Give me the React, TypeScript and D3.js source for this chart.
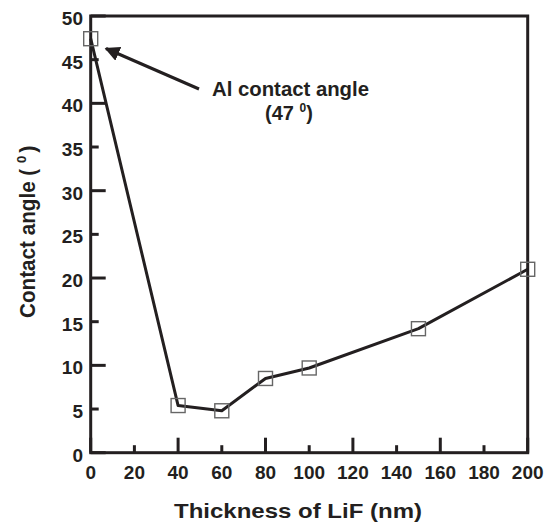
import React from "react";
import * as d3 from "d3";

const thickness = [0, 40, 60, 80, 100, 150, 200];
const angle = [47.4, 5.4, 4.8, 8.5, 9.7, 14.2, 21.0];
const xTicks = [0, 20, 40, 60, 80, 100, 120, 140, 160, 180, 200];
const yTicks = [0, 5, 10, 15, 20, 25, 30, 35, 40, 45, 50];
const xTitle = "Thickness of LiF (nm)";
const yTitle = "Contact angle ( ";
const annot1 = "Al contact angle";
const annotValue = "(47 ";

export default function App() {
  const W = 551, H = 526;
  const L = 90.7, R = 527.7, T = 16, B = 452.7;
  const x = d3.scaleLinear().domain([0, 200]).range([L, R]);
  const y = d3.scaleLinear().domain([0, 50]).range([B, T]);
  const line = d3.line<number>()
    .x((_, i) => x(thickness[i]))
    .y((d) => y(d))
    .curve(d3.curveLinear);
  const ink = "#231f20";
  const font = "'Liberation Sans', Arial, sans-serif";
  const s = 14;
  return (
    <svg width={W} height={H} style={{ position: "absolute", left: 0, top: 0 }}>
      <defs>
        <marker id="ah" viewBox="0 0 10 10" refX="9" refY="5" markerWidth="5" markerHeight="5" orient="auto" markerUnits="strokeWidth">
          <path d="M0,0 L10,5 L0,10 z" fill={ink} />
        </marker>
      </defs>
      <rect width={W} height={H} fill="#fff" />
      {xTicks.map((t, i) => (
        <line key={"xt" + t} x1={x(t)} x2={x(t)} y1={B} y2={B - (i % 2 === 0 ? 15 : 7.5)} stroke={ink} strokeWidth={3} />
      ))}
      {yTicks.map((t, i) => (
        <line key={"yt" + t} x1={L} x2={L + (i % 2 === 0 ? 15 : 8)} y1={y(t)} y2={y(t)} stroke={ink} strokeWidth={3} />
      ))}
      <rect x={L} y={T} width={R - L} height={B - T} fill="none" stroke={ink} strokeWidth={3} />
      {xTicks.map((t) => (
        <text key={"xl" + t} x={x(t)} y={478.5} textAnchor="middle" fontFamily={font} fontWeight="bold" fontSize={19} fill={ink}>{t}</text>
      ))}
      {yTicks.map((t) => (
        <text key={"yl" + t} x={83} y={y(t) + 9} textAnchor="end" fontFamily={font} fontWeight="bold" fontSize={19} fill={ink}>{t}</text>
      ))}
      <text x={174} y={518.3} textLength={248} lengthAdjust="spacingAndGlyphs" fontFamily={font} fontWeight="bold" fontSize={21} fill={ink}>{xTitle}</text>
      <text transform="translate(35,318) rotate(-90)" fontFamily={font} fontWeight="bold" fontSize={22} fill={ink}>
        <tspan textLength={155} lengthAdjust="spacingAndGlyphs">{yTitle}</tspan><tspan fontSize={13} dy={-9}>0</tspan><tspan dx={3} dy={9}>)</tspan>
      </text>
      <path d={line(angle) || ""} fill="none" stroke={ink} strokeWidth={3} strokeLinejoin="round" />
      {angle.map((v, i) => (
        <rect key={"m" + i} x={x(thickness[i]) - s / 2} y={y(v) - s / 2} width={s} height={s} fill="none" stroke="#666" strokeWidth={1.4} />
      ))}
      <line x1={199} y1={89} x2={106} y2={48.5} stroke={ink} strokeWidth={3} markerEnd="url(#ah)" />
      <text x={212} y={96} textLength={157} lengthAdjust="spacingAndGlyphs" fontFamily={font} fontWeight="bold" fontSize={20} fill={ink}>{annot1}</text>
      <text x={265} y={120} fontFamily={font} fontWeight="bold" fontSize={20} fill={ink}>
        {annotValue}<tspan fontSize={12} dy={-8}>0</tspan><tspan dy={8}>)</tspan>
      </text>
    </svg>
  );
}
